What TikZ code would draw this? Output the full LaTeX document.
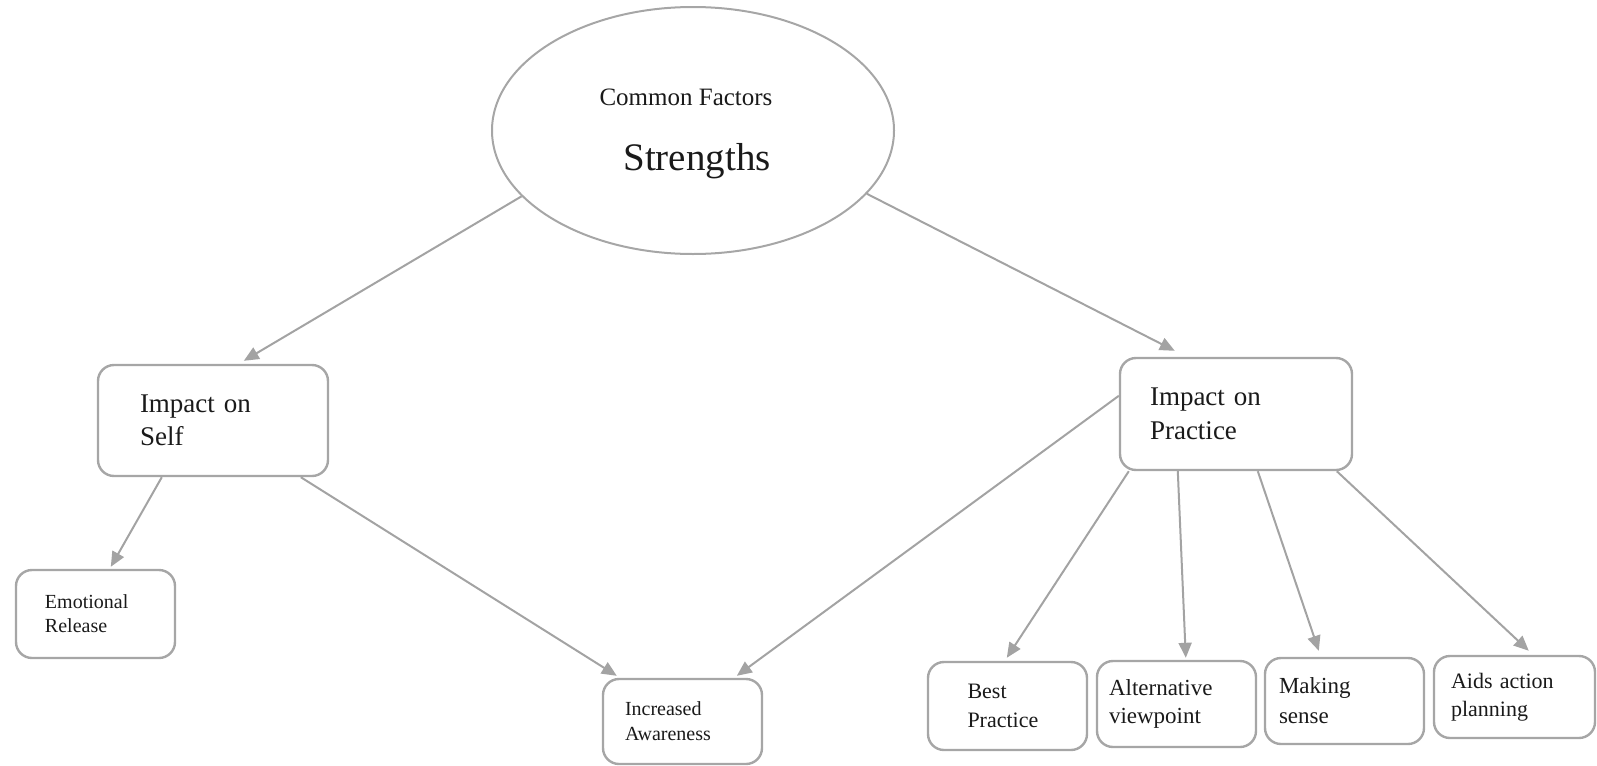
\documentclass[tikz,border=0pt]{standalone}
\usepackage{fontspec}
\setmainfont{Liberation Serif}
\usetikzlibrary{shapes.geometric,arrows.meta,calc}
\definecolor{edgegray}{HTML}{A6A6A6}
\definecolor{linegray}{HTML}{A3A3A3}
\definecolor{txt}{HTML}{1A1A1A}
\tikzset{
  boxnode/.style={draw=edgegray, line width=1.2pt, rounded corners=8pt, fill=white,
    align=left, text=txt, inner ysep=0pt},
  rootnode/.style={draw=edgegray, line width=1pt, ellipse, inner sep=0pt,
    minimum width=201pt, minimum height=123.5pt},
  conn/.style={draw=linegray, line width=1pt, -{Triangle[length=7.5pt,width=6.5pt]}},
}
\begin{document}
\begin{tikzpicture}[x=0.5pt,y=-0.5pt]
\useasboundingbox (0,0) rectangle (1597,766);
% root ellipse
\node[rootnode] (root) at (693,130.5) {};
\node[text=txt, font={\fontsize{12.5}{14}\selectfont}, anchor=base] (rootA) at (686,105) {Common Factors};
\node[text=txt, font={\fontsize{19.5}{23}\selectfont}, anchor=base] (rootB) at (697,170) {Strengths};
% level 1
\node[boxnode, minimum width=115pt, minimum height=55.5pt, text width=73pt, inner xsep=21pt,
  font={\fontsize{13.5}{16.5}\selectfont}] (self) at (213,420.5) {Impact on\\Self};
\node[boxnode, minimum width=116pt, minimum height=56pt, text width=86pt, inner xsep=15pt,
  font={\fontsize{13.5}{17}\selectfont}] (practice) at (1236,414) {Impact on\\Practice};
% level 2
\node[boxnode, minimum width=79.5pt, minimum height=44pt, text width=50.5pt, inner xsep=14.5pt,
  font={\fontsize{10}{12}\selectfont}] (emotional) at (95.5,614) {Emotional\\Release};
\node[boxnode, minimum width=79.5pt, minimum height=42.5pt, text width=57.5pt, inner xsep=11pt,
  font={\fontsize{10}{12.5}\selectfont}] (increased) at (682.5,721.5) {Increased\\Awareness};
\node[boxnode, minimum width=79.5pt, minimum height=44pt, text width=40pt, inner xsep=19.5pt,
  font={\fontsize{11}{14.5}\selectfont}] (best) at (1007.5,706) {Best\\Practice};
\node[boxnode, minimum width=79.5pt, minimum height=43pt, text width=67.5pt, inner xsep=6pt,
  font={\fontsize{11.5}{14}\selectfont}] (alt) at (1176.5,704) {Alternative\\viewpoint};
\node[boxnode, minimum width=79.5pt, minimum height=43pt, text width=65.5pt, inner xsep=7pt,
  font={\fontsize{11.5}{15}\selectfont}] (making) at (1344.5,701) {Making\\sense};
\node[boxnode, minimum width=80.5pt, minimum height=41pt, text width=63.5pt, inner xsep=8.5pt,
  font={\fontsize{11}{14}\selectfont}] (aids) at (1514.5,697) {Aids action\\planning};
% connectors
\draw[conn] (root.201.5) -- ($(self.north west)+(147,-3)$);
\draw[conn] (root.340.3) -- ($(practice.north west)+(56,-6)$);
\draw[conn] ($(self.south west)+(65,0)$) -- ($(emotional.north west)+(96,-2)$);
\draw[conn] ($(self.south west)+(204,0)$) -- ($(increased.north west)+(15,-2)$);
\draw[conn] ($(practice.north west)+(0,39)$) -- ($(increased.north west)+(135,-2)$);
\draw[conn] ($(practice.south west)+(10,0)$) -- ($(best.north west)+(80,-3)$);
\draw[conn] ($(practice.south west)+(59,0)$) -- ($(alt.north west)+(90,-2)$);
\draw[conn] ($(practice.south west)+(139,0)$) -- ($(making.north west)+(55,-6)$);
\draw[conn] ($(practice.south west)+(218,0)$) -- ($(aids.north west)+(96,-4)$);
\end{tikzpicture}
\end{document}
